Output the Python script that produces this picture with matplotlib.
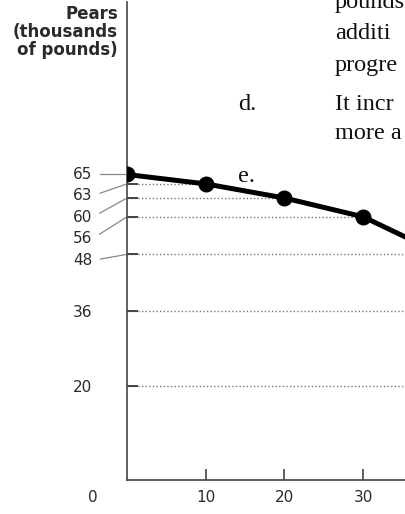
import matplotlib
matplotlib.use("Agg")
import matplotlib.pyplot as plt

# PPF points (apples on x, pears on y)
apples = [0, 10, 20, 30, 40, 50, 60]
pears = [65, 63, 60, 56, 48, 36, 20]
x_ticks = [10, 20, 30]
x_tick_labels = ["10", "20", "30"]
y_title = ["Pears", "(thousands", "of pounds)"]

# bits of the surrounding book page that show at the right (cut by the crop)
page_lines = ["pounds", "additi", "progre", "It incr", "more a"]
page_items = ["d.", "e."]

W, H = 406, 514
fig = plt.figure(figsize=(W / 100, H / 100), dpi=100)

x0_px, y0_px = 127, 480          # where (0, 0) sits in the picture
px_x, px_y = 7.87, 4.7           # pixels per unit
ax = fig.add_axes([x0_px / W, (H - y0_px) / H, (W - x0_px) / W, (y0_px - 2) / H])

txt = "#2a2a2a"

# dotted guide lines from the axis to each point
ax.hlines(pears[1:], 0, apples[1:], colors="#777777", lw=1.0,
          linestyles=(0, (1, 1.6)), zorder=1)

ax.plot(apples, pears, color="black", lw=3.6, marker="o", ms=10.5,
        solid_capstyle="round", zorder=3)

for s in ["top", "right"]:
    ax.spines[s].set_visible(False)
for s in ["left", "bottom"]:
    ax.spines[s].set_color("#444444")
    ax.spines[s].set_linewidth(1.2)

ax.set_xticks(x_ticks)
ax.set_xticklabels(x_tick_labels)
ax.tick_params(axis="x", direction="in", length=8, width=1.2, color="#444444",
               pad=7, labelsize=11, labelcolor=txt)
ax.set_yticks(pears[1:])
ax.tick_params(axis="y", direction="in", length=8, width=1.4, color="#444444",
               labelleft=False)

# limits last so the ticks don't widen them
ax.set_xlim(0, (W - x0_px) / px_x)
ax.set_ylim(0, (y0_px - 2) / px_y)

# origin label
ax.text(-4.3, -17 / px_y, "0", ha="center", va="center", fontsize=11,
        color=txt, clip_on=False)

# y labels: top five stacked with leader lines, the rest beside their tick
lab_x = -35 / px_x
for i, v in enumerate(pears[:5]):
    ly = pears[0] - i * 21.5 / px_y
    ax.annotate(str(v), xy=(0, v), xytext=(lab_x, ly), ha="right", va="center",
                fontsize=11, color=txt, annotation_clip=False,
                arrowprops=dict(arrowstyle="-", color="#888888", lw=0.9,
                                relpos=(1, 0.5), shrinkA=4, shrinkB=1))
for v in pears[5:]:
    ax.text(lab_x, v - 2 / px_y, str(v), ha="right", va="center",
            fontsize=11, color=txt, clip_on=False)

# axis title
for i, line in enumerate(y_title):
    fig.text(118 / W, 1 - (19 + 18 * i) / H, line, ha="right", va="baseline",
             fontsize=12, fontweight="bold", color=txt)

# page text
serif = dict(family="Liberation Serif", fontsize=17.5, color="#111111",
             ha="left", va="baseline")
for line, base in zip(page_lines, [8, 39, 71, 110, 139]):
    fig.text(335 / W, 1 - base / H, line, **serif)
for item, base in zip(page_items, [110, 182]):
    fig.text(238 / W, 1 - base / H, item, **serif)

fig.savefig("out.png", dpi=100)
